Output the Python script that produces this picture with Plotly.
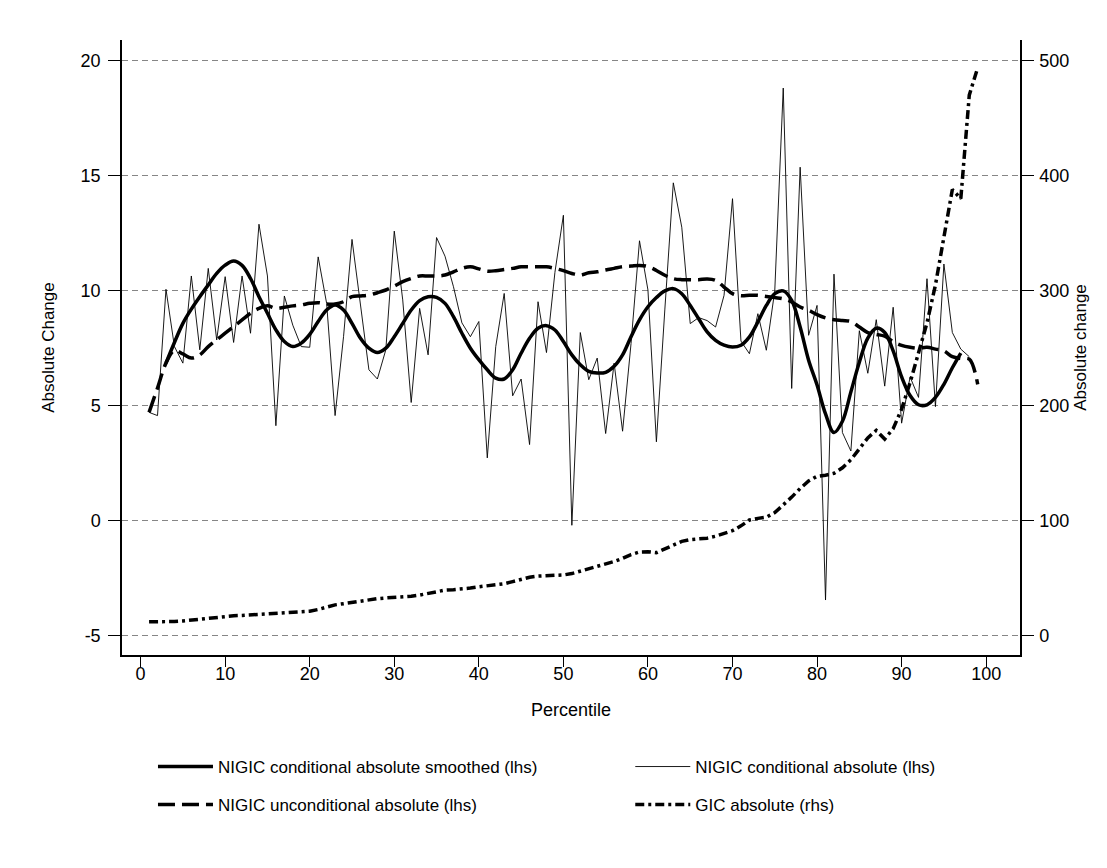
import plotly.graph_objects as go

pct_cond = list(range(1, 99))
nigic_cond = [4.71, 4.57, 10.06, 7.57, 6.85, 10.64, 7.43, 10.97, 7.86, 10.61,
              7.75, 10.64, 8.15, 12.89, 10.64, 4.13, 9.77, 8.5, 7.57, 7.54,
              11.47, 9.45, 4.57, 8.0, 12.23, 9.5, 6.56, 6.16, 7.43, 12.59,
              9.6, 5.14, 9.23, 7.21, 12.31, 11.5, 10.17, 8.6, 8.0, 8.66,
              2.73, 7.57, 9.88, 5.43, 6.16, 3.31, 9.52, 7.31, 10.8, 13.28,
              -0.2, 8.18, 6.13, 7.07, 3.79, 6.85, 3.89, 7.7, 12.17, 10.03,
              3.43, 9.2, 14.69, 12.76, 8.57, 8.83, 8.7, 8.42, 9.8, 14.0,
              7.81, 7.26, 9.0, 7.41, 10.0, 18.81, 5.75, 15.37, 8.06, 9.36,
              -3.45, 10.72, 3.83, 3.03, 8.26, 6.41, 8.74, 5.85, 9.28, 4.24,
              6.25, 5.36, 10.52, 4.96, 11.16, 8.18, 7.46, 7.13]

pct_smooth = list(range(3, 98))
nigic_smooth = [6.85, 7.75, 8.58, 9.2, 9.74, 10.25, 10.75, 11.11, 11.29, 11.1,
                10.53, 9.74, 9.02, 8.3, 7.79, 7.57, 7.72, 8.1, 8.66, 9.16,
                9.38, 9.16, 8.58, 7.93, 7.5, 7.31, 7.5, 8.0, 8.58, 9.16,
                9.57, 9.74, 9.71, 9.45, 8.87, 8.15, 7.5, 7.0, 6.56, 6.2,
                6.16, 6.56, 7.28, 7.93, 8.37, 8.48, 8.29, 7.79, 7.21, 6.78,
                6.49, 6.42, 6.45, 6.71, 7.21, 8.0, 8.73, 9.3, 9.7, 9.99,
                10.09, 9.87, 9.36, 8.78, 8.21, 7.84, 7.63, 7.55, 7.63, 7.99,
                8.64, 9.36, 9.87, 9.99, 9.58, 8.42, 6.98, 5.9, 4.64, 3.83,
                4.32, 5.6, 6.89, 7.94, 8.37, 8.18, 7.38, 6.25, 5.44, 5.04,
                5.04, 5.36, 5.93, 6.65, 7.29]

pct_full = list(range(1, 100))
nigic_uncond = [4.71, 5.77, 6.85, 7.4, 7.25, 7.07, 7.21, 7.57, 7.86, 8.15,
                8.44, 8.73, 9.02, 9.23, 9.34, 9.23, 9.28, 9.34, 9.38, 9.45,
                9.48, 9.42, 9.42, 9.52, 9.74, 9.77, 9.81, 9.91, 10.03, 10.2,
                10.39, 10.53, 10.64, 10.64, 10.64, 10.68, 10.82, 10.97, 11.04, 10.95,
                10.85, 10.87, 10.92, 10.97, 11.04, 11.04, 11.04, 11.04, 10.97, 10.87,
                10.75, 10.68, 10.78, 10.82, 10.9, 10.97, 11.04, 11.07, 11.1, 11.05,
                10.88, 10.67, 10.52, 10.48, 10.48, 10.48, 10.51, 10.45, 10.16, 9.87,
                9.78, 9.8, 9.8, 9.75, 9.7, 9.65, 9.51, 9.29, 9.15, 8.96,
                8.82, 8.74, 8.7, 8.66, 8.42, 8.18, 8.1, 8.02, 7.78, 7.62,
                7.54, 7.5, 7.54, 7.46, 7.38, 7.13, 7.05, 7.02, 5.93]

gic_abs = [12.1, 12.0, 12.0, 12.3, 12.8, 13.6, 14.5, 15.4, 16.2, 16.8,
           17.3, 17.6, 18.0, 18.4, 18.9, 19.5, 19.8, 20.0, 20.3, 21.3,
           22.8, 24.8, 26.8, 27.8, 29.0, 30.0, 31.2, 32.2, 32.8, 33.2,
           33.5, 34.3, 35.3, 36.8, 38.6, 39.6, 40.0, 40.4, 41.4, 42.5,
           43.4, 44.1, 45.2, 47.0, 48.8, 50.8, 51.8, 52.0, 52.3, 52.8,
           54.0, 56.0, 58.5, 60.5, 62.0, 64.5, 67.2, 70.5, 72.8, 73.0,
           72.2, 75.5, 79.0, 82.0, 83.5, 84.2, 84.8, 86.5, 88.8, 91.3,
           95.5, 100.6, 102.0, 103.0, 107.0, 113.6, 120.5, 128.0, 134.5, 138.6,
           139.5, 141.2, 146.0, 153.0, 162.0, 172.0, 178.5, 171.0, 180.0, 197.0,
           220.0, 245.0, 272.0, 305.0, 345.0, 388.0, 380.0, 470.0, 494.0]

x_ticks = [0, 10, 20, 30, 40, 50, 60, 70, 80, 90, 100]
y_ticks = [-5, 0, 5, 10, 15, 20]
y_ticktext = ["-5", "0", "5", "10", "15", "20"]
y2_ticks = [0, 100, 200, 300, 400, 500]

FONT = "Liberation Sans, Arial, sans-serif"

fig = go.Figure()
fig.add_trace(go.Scatter(x=pct_smooth, y=nigic_smooth, mode="lines",
                         name="NIGIC conditional absolute smoothed (lhs)",
                         line=dict(color="black", width=3.5, shape="spline"),
                         legend="legend"))
fig.add_trace(go.Scatter(x=pct_cond, y=nigic_cond, mode="lines",
                         name="NIGIC conditional absolute (lhs)",
                         line=dict(color="black", width=0.9),
                         legend="legend2"))
fig.add_trace(go.Scatter(x=pct_full, y=nigic_uncond, mode="lines",
                         name="NIGIC unconditional absolute (lhs)",
                         line=dict(color="black", width=3.5, dash="17px,7px", shape="spline"),
                         legend="legend3"))
fig.add_trace(go.Scatter(x=pct_full, y=gic_abs, mode="lines", yaxis="y2",
                         name="GIC absolute (rhs)",
                         line=dict(color="black", width=3.5, dash="9px,4px,3px,4px"),
                         legend="legend4"))

legend_common = dict(orientation="h", xanchor="left", yanchor="middle",
                     font=dict(family=FONT, size=17, color="black"),
                     bgcolor="rgba(0,0,0,0)", itemwidth=55)

col1_x = 0.0345
col2_x = 0.566
row1_y = -0.1821
row2_y = -0.2439

fig.update_layout(
    width=1099, height=860,
    paper_bgcolor="white", plot_bgcolor="white",
    margin=dict(l=114, r=87, t=32, b=213),
    font=dict(family=FONT, size=18, color="black"),
    showlegend=True,
    legend=dict(x=col1_x, y=row1_y, **legend_common),
    legend2=dict(x=col2_x, y=row1_y, **legend_common),
    legend3=dict(x=col1_x, y=row2_y, **legend_common),
    legend4=dict(x=col2_x, y=row2_y, **legend_common),
    xaxis=dict(range=[-2.2, 104], tickvals=x_ticks, ticks="outside", ticklen=10,
               ticklabelstandoff=-8,
               tickcolor="black", showline=True, linecolor="black", linewidth=1.5,
               showgrid=False, zeroline=False,
               title=dict(text="Percentile", font=dict(size=18), standoff=20),
               tickfont=dict(size=18)),
    yaxis=dict(range=[-5.84, 20.9], tickvals=y_ticks, ticktext=y_ticktext,
               ticks="outside", ticklen=12, ticklabelstandoff=4,
               tickcolor="black", showline=True, linecolor="black", linewidth=1.5,
               showgrid=True, gridcolor="#868686", griddash="6px,4px", gridwidth=1,
               zeroline=False, tickfont=dict(size=18),
               title=dict(text="Absolute Change", font=dict(size=17), standoff=22)),
    yaxis2=dict(range=[-16.8, 518], tickvals=y2_ticks, ticks="outside", ticklen=12,
                ticklabelstandoff=2,
                tickcolor="black", overlaying="y", side="right", showline=True,
                linecolor="black", linewidth=1.5, showgrid=False, zeroline=False,
                tickfont=dict(size=18),
                title=dict(text="Absolute change", font=dict(size=17), standoff=6)),
)

fig.write_html("out.html")
